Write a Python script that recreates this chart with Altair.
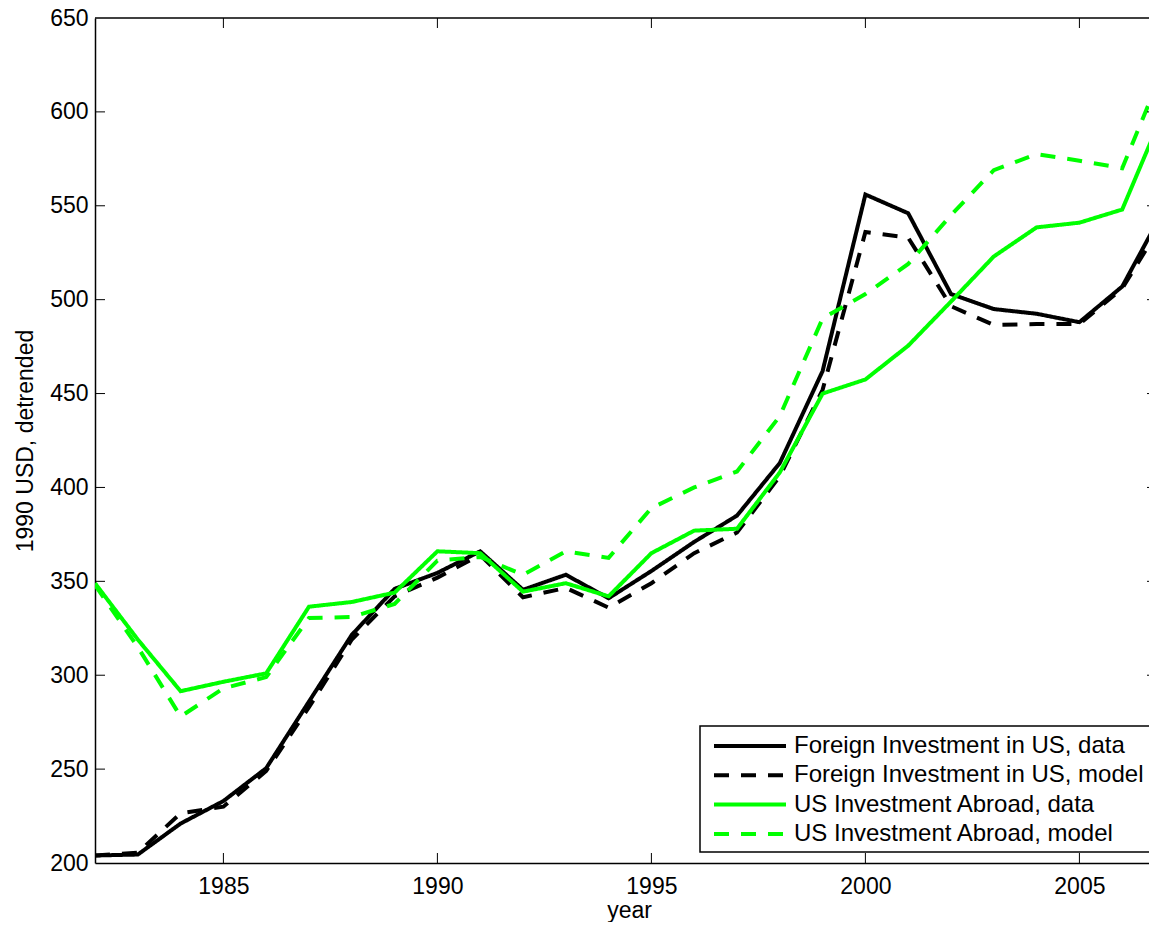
import altair as alt
import pandas as pd

# ---------------- data ----------------
years = list(range(1982, 2008))
foreign_data = [204, 204.5, 221, 233, 250.5, 286, 321.5, 346, 354.5, 366, 345.5, 353.5, 341,
                355.5, 371, 385, 413, 462, 556, 546, 503, 495, 492.5, 488, 507, 549]
foreign_model = [204, 205.5, 226.5, 230, 249, 283, 319, 342, 352, 364, 341.5, 346.5, 336,
                 349, 365, 376, 406, 452, 536, 533, 496.5, 486.5, 487, 487, 506, 543]
us_data = [349, 319, 291.5, 296.5, 301, 336.5, 339, 344, 366, 365, 344.5, 349, 342,
           365, 377, 378, 408, 450, 457.5, 475.5, 499, 523, 538.5, 541, 548, 602]
us_model = [348, 315, 278, 293, 299, 330.5, 331, 338, 361, 363, 353.5, 366, 362.5,
            389, 400, 408.5, 438, 490, 503, 519, 545, 569, 577.5, 574, 570, 625]

series_names = ["Foreign Investment in US, data", "Foreign Investment in US, model",
                "US Investment Abroad, data", "US Investment Abroad, model"]
series_values = [foreign_data, foreign_model, us_data, us_model]
series_colors = ["#000000", "#000000", "#00ff00", "#00ff00"]
series_dash = [[1, 0], [15, 12], [1, 0], [15, 12]]

x_tick_values = [1985, 1990, 1995, 2000, 2005]
y_tick_values = [200, 250, 300, 350, 400, 450, 500, 550, 600, 650]
x_domain = [1982, 2006.626]
y_domain = [200, 650]

rows = []
for name, vals in zip(series_names, series_values):
    for yr, v in zip(years, vals):
        rows.append({"year": yr, "value": v, "series": name})
df = pd.DataFrame(rows)

W, H = 1054, 845
FONT = "Liberation Sans"

x_scale = alt.Scale(domain=x_domain, nice=False, zero=False)
y_scale = alt.Scale(domain=y_domain, nice=False, zero=False)

x_axis = alt.Axis(values=x_tick_values, format="d", title="year", grid=False,
                  ticks=False, tickSize=0, domainColor="black", domainWidth=1.5,
                  labelFont=FONT, labelFontSize=23, labelColor="black", labelPadding=12,
                  labelFlush=False, labelOverlap=False,
                  titleFont=FONT, titleFontSize=23, titleColor="black", titleFontWeight="normal",
                  titleX=534, titleY=54, titleBaseline="alphabetic", titleAlign="center")
y_axis = alt.Axis(values=y_tick_values, title="1990 USD, detrended", grid=False,
                  ticks=False, tickSize=0, domainColor="black", domainWidth=1.5,
                  labelFont=FONT, labelFontSize=23, labelColor="black", labelPadding=7,
                  labelFlush=False, labelOverlap=False,
                  titleFont=FONT, titleFontSize=23, titleColor="black", titleFontWeight="normal",
                  titleX=-63, titleY=H / 2, titleAngle=270, titleBaseline="alphabetic",
                  titleAlign="center")

legend = alt.Legend(title=None, orient="none", legendX=605, legendY=708,
                    symbolType="M-3,0H3", symbolSize=576, symbolStrokeWidth=4,
                    symbolOffset=30, labelOffset=30,
                    labelFont=FONT, labelFontSize=24, labelColor="black", labelLimit=600,
                    padding=6, rowPadding=3.3, strokeColor="black", fillColor="white")

lines = alt.Chart(df).mark_line(strokeWidth=4, clip=True, strokeJoin="miter", strokeCap="butt").encode(
    x=alt.X("year:Q", scale=x_scale, axis=x_axis),
    y=alt.Y("value:Q", scale=y_scale, axis=y_axis),
    color=alt.Color("series:N", scale=alt.Scale(domain=series_names, range=series_colors), legend=legend),
    strokeDash=alt.StrokeDash("series:N", scale=alt.Scale(domain=series_names, range=series_dash), legend=legend),
)

ytick_df = pd.DataFrame({"value": y_tick_values[1:-1]})
xtick_df = pd.DataFrame({"year": x_tick_values})

left_ticks = alt.Chart(ytick_df).mark_rule(color="black", strokeWidth=1).encode(
    y=alt.Y("value:Q", scale=y_scale, axis=y_axis), x=alt.value(0), x2=alt.value(10))
right_ticks = alt.Chart(ytick_df).mark_rule(color="black", strokeWidth=1).encode(
    y=alt.Y("value:Q", scale=y_scale, axis=y_axis), x=alt.value(W - 2), x2=alt.value(W))
bottom_ticks = alt.Chart(xtick_df).mark_rule(color="black", strokeWidth=1).encode(
    x=alt.X("year:Q", scale=x_scale, axis=x_axis), y=alt.value(H), y2=alt.value(H - 10))
top_ticks = alt.Chart(xtick_df).mark_rule(color="black", strokeWidth=1).encode(
    x=alt.X("year:Q", scale=x_scale, axis=x_axis), y=alt.value(0), y2=alt.value(10))
top_border = alt.Chart(pd.DataFrame({"a": [0]})).mark_rule(color="black", strokeWidth=1.5).encode(
    x=alt.value(0), x2=alt.value(W), y=alt.value(0))

chart = alt.layer(lines, left_ticks, right_ticks, bottom_ticks, top_ticks, top_border).properties(
    width=W, height=H,
    padding={"left": 87, "top": 10, "right": 0, "bottom": 59},
    autosize=alt.AutoSizeParams(type="none"),
    background="white",
).configure_view(stroke=None).configure_legend(strokeWidth=1.5)

chart.save("out.html", embed_options={"renderer": "svg", "actions": False})
